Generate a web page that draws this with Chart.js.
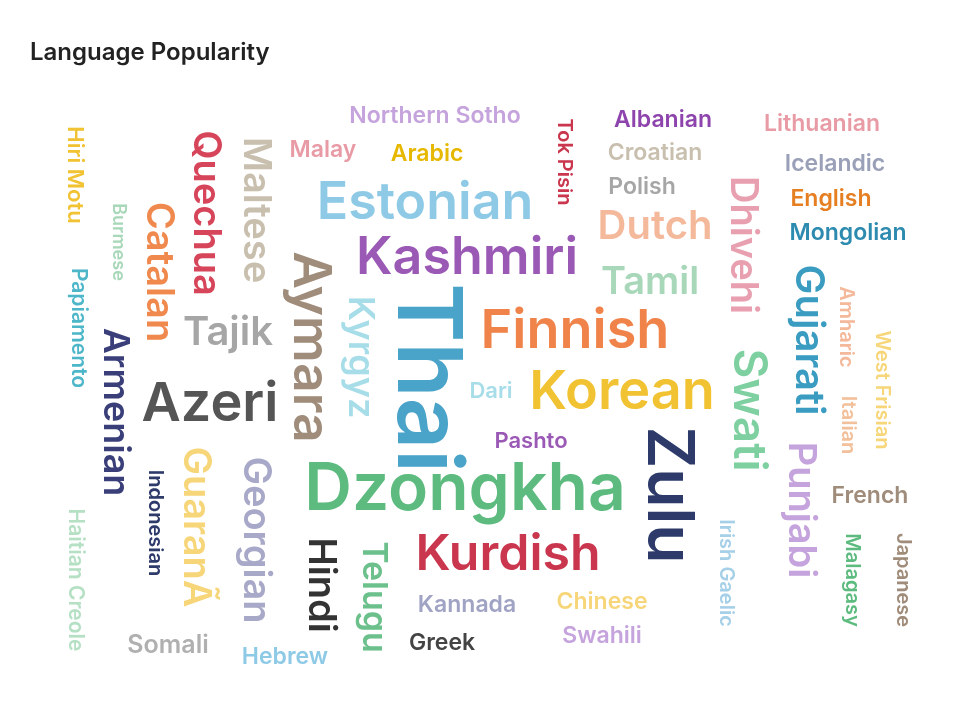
<!DOCTYPE html>
<html>
<head>
<meta charset="utf-8">
<script src="https://cdn.jsdelivr.net/npm/chart.js@4"></script>
<style>
  body { margin: 0; background: #fff; }
  #wrap { position: relative; width: 974px; height: 716px; }
  #title { position: absolute; left: 30px; top: 37px; font: 600 24px Inter, sans-serif; color: #222; }
</style>
</head>
<body>
<div id="wrap">
  <canvas id="cloud"></canvas>
  <div id="title">Language Popularity</div>
</div>
<script>
// word, x, y (page units), font size, vertical flag, colour
const words = ["Hiri Motu","Burmese","Papiamento","Catalan","Quechua","Maltese","Armenian","Tajik","Azeri","Indonesian","GuaranÃ","Georgian","Haitian Creole","Somali","Hebrew","Hindi","Telugu","Aymara","Kyrgyz","Northern Sotho","Malay","Arabic","Estonian","Kashmiri","Thai","Dzongkha","Kurdish","Kannada","Greek","Dari","Pashto","Finnish","Korean","Tok Pisin","Albanian","Croatian","Polish","Dutch","Tamil","Zulu","Chinese","Swahili","Irish Gaelic","Dhivehi","Swati","Lithuanian","Icelandic","English","Mongolian","Gujarati","Amharic","Italian","West Frisian","Punjabi","French","Malagasy","Japanese"];
const xs = [75,118,78,158,205,255,115,228,210,155,195,255,75,168,285,320,373,310,360,435,323,427,425,467,425,465,508,467,442,491,531,575,622,564,663,655,642,655,650,667,602,602,726,742,748,822,835,831,848,808,846,848,882,800,870,852,903];
const ys = [175,242,328,272,213,210,412,333,405,523,527,540,580,645,657,585,597,347,357,116,150,154,203,258,378,490,555,605,643,391,441,332,393,162,120,153,187,227,283,495,602,636,573,245,410,124,164,199,233,340,327,425,390,510,496,580,580];
const sizes = [22,18,21,38,38,38,36,40,54,20,38,38,21,25,23,38,34,52,36,23,23,23,52,52,90,66,50,23,23,22,22,54,54,20,23,23,23,40,38,64,23,23,20,38,46,23,23,23,23,40,20,20,20,38,23,20,20];
const vertical = [1,1,1,1,1,1,1,0,0,1,1,1,1,0,0,1,1,1,1,0,0,0,0,0,1,0,0,0,0,0,0,0,0,1,0,0,0,0,0,1,0,0,1,1,1,0,0,0,0,1,1,1,1,1,0,1,1];
const colors = ["#f1c232","#a8d8b9","#4db6c8","#f0894e","#d6455a","#c9bfae","#3a3f7a","#a6a6a6","#555555","#2d3a6a","#f7d67a","#a8a8c8","#b5e0c4","#b0b0b0","#8ecae6","#333333","#6cc08b","#a08c7a","#a6dde8","#c5a3dc","#e89aa5","#e6b800","#8ecae6","#9b59b6","#4aa3c8","#5dbb7f","#c9364d","#a0a3c4","#444444","#a6dde8","#9b59b6","#f0834a","#f1c232","#c9364d","#8e44ad","#c9bfae","#a6a6a6","#f4b89a","#a8d8b9","#2d3a6a","#f7d67a","#c5a3dc","#a6d0e8","#e8a0b0","#7fd0a0","#e89aa5","#9aa0b8","#e67e22","#2e8bb0","#3a9cc0","#f4b89a","#f2c09a","#f7d67a","#c5a3dc","#a08c7a","#5dbb7f","#a08c7a"];

const wordPlugin = {
    id: 'words',
    afterDatasetsDraw(chart) {
        const ctx = chart.ctx;
        const meta = chart.getDatasetMeta(0);
        meta.data.forEach((pt, i) => {
            ctx.save();
            ctx.translate(pt.x, pt.y);
            if (vertical[i]) ctx.rotate(Math.PI / 2);
            ctx.font = '600 ' + sizes[i] + 'px Inter, sans-serif';
            ctx.fillStyle = colors[i];
            ctx.textAlign = 'center';
            ctx.textBaseline = 'middle';
            ctx.fillText(words[i], 0, 0);
            ctx.restore();
        });
    }
};

new Chart(document.getElementById('cloud'), {
    type: 'scatter',
    data: { datasets: [{ data: xs.map((x, i) => ({ x: x, y: ys[i] })), pointRadius: 0 }] },
    options: {
        responsive: true, maintainAspectRatio: false, animation: false,
        layout: { padding: 0 },
        plugins: { legend: { display: false }, tooltip: { enabled: false } },
        scales: {
            x: { display: false, min: 0, max: 974 },
            y: { display: false, min: 0, max: 716, reverse: true }
        }
    },
    plugins: [wordPlugin]
});
</script>
</body>
</html>
